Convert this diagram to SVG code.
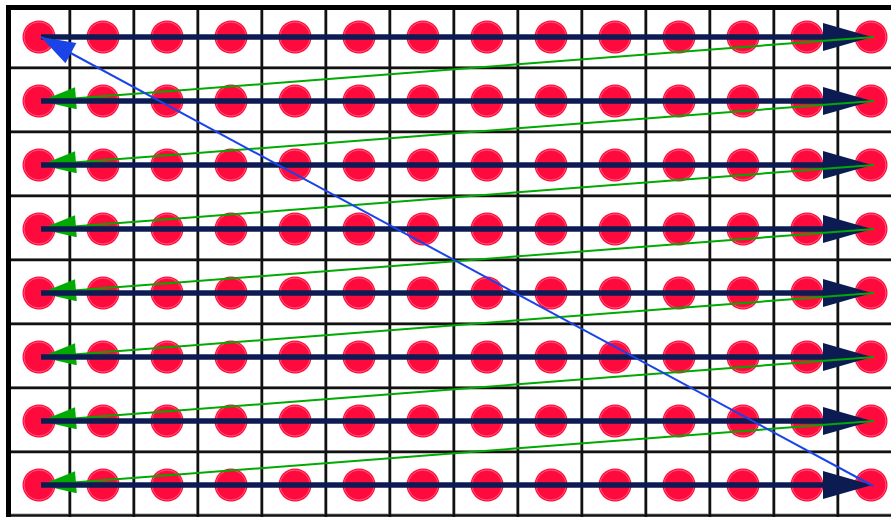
<svg xmlns="http://www.w3.org/2000/svg" xmlns:xlink="http://www.w3.org/1999/xlink" width="891" height="517" viewBox="0 0 891 517">
<style>
.grid{stroke:#111;stroke-width:2.5;fill:none}
.gridg{stroke:#999;stroke-width:1;fill:none}
.dot{fill:#ff0a3c}
.ring{fill:none;stroke:#ff6a88;stroke-width:0.8}
.navy{stroke:#0c1c52;stroke-width:5.5}
.navyh{fill:#0c1c52}
.green{stroke:#00aa00;stroke-width:2}
.blue{stroke:#1a44e8;stroke-width:2}
</style>
<defs>
<g id="dot"><circle class="dot" r="16.5"/><circle class="ring" r="15"/></g>
<polygon id="nh" class="navyh" points="-48,-14 1,0 -48,14"/>
<marker id="ga" markerUnits="userSpaceOnUse" orient="auto" overflow="visible" refX="0" refY="0">
<path d="M0,0 L-35,-11 L-35,11 z" fill="#00aa00"/>
</marker>
<marker id="ba" markerUnits="userSpaceOnUse" orient="auto" overflow="visible" refX="0" refY="0">
<path d="M0,0 L-34,-11.5 L-34,11.5 z" fill="#1a44e8"/>
</marker>
</defs>
<rect width="891" height="517" fill="#fff"/>
<g id="grid">
<path class="gridg" d="M68.5,10V517M132.5,10V517M196.5,10V517M260.5,10V517M324.5,10V517M388.5,10V517M452.5,10V517M516.5,10V517M580.5,10V517M644.5,10V517M708.5,10V517M772.5,10V517M836.5,10V517"/>
<path class="gridg" d="M11,66.5H891M11,130.5H891M11,194.5H891M11,258.5H891M11,322.5H891M11,386.5H891M11,450.5H891M11,514H891"/>
<path class="grid" d="M70,10V517M134,10V517M198,10V517M262,10V517M326,10V517M390,10V517M454,10V517M518,10V517M582,10V517M646,10V517M710,10V517M774,10V517M838,10V517"/>
<path class="grid" d="M11,68H891M11,132H891M11,196H891M11,260H891M11,324H891M11,388H891M11,452H891M11,515.5H891"/>
<path d="M8.5,517V7.5H891" fill="none" stroke="#000" stroke-width="5"/>
</g>
<g id="nodes">
<g id="row0"><use xlink:href="#dot" x="39" y="37"/><use xlink:href="#dot" x="103" y="37"/><use xlink:href="#dot" x="167" y="37"/><use xlink:href="#dot" x="231" y="37"/><use xlink:href="#dot" x="295" y="37"/><use xlink:href="#dot" x="359" y="37"/><use xlink:href="#dot" x="423" y="37"/><use xlink:href="#dot" x="487" y="37"/><use xlink:href="#dot" x="551" y="37"/><use xlink:href="#dot" x="615" y="37"/><use xlink:href="#dot" x="679" y="37"/><use xlink:href="#dot" x="743" y="37"/><use xlink:href="#dot" x="807" y="37"/><use xlink:href="#dot" x="871" y="37"/></g>
<g id="row1"><use xlink:href="#dot" x="39" y="101"/><use xlink:href="#dot" x="103" y="101"/><use xlink:href="#dot" x="167" y="101"/><use xlink:href="#dot" x="231" y="101"/><use xlink:href="#dot" x="295" y="101"/><use xlink:href="#dot" x="359" y="101"/><use xlink:href="#dot" x="423" y="101"/><use xlink:href="#dot" x="487" y="101"/><use xlink:href="#dot" x="551" y="101"/><use xlink:href="#dot" x="615" y="101"/><use xlink:href="#dot" x="679" y="101"/><use xlink:href="#dot" x="743" y="101"/><use xlink:href="#dot" x="807" y="101"/><use xlink:href="#dot" x="871" y="101"/></g>
<g id="row2"><use xlink:href="#dot" x="39" y="165"/><use xlink:href="#dot" x="103" y="165"/><use xlink:href="#dot" x="167" y="165"/><use xlink:href="#dot" x="231" y="165"/><use xlink:href="#dot" x="295" y="165"/><use xlink:href="#dot" x="359" y="165"/><use xlink:href="#dot" x="423" y="165"/><use xlink:href="#dot" x="487" y="165"/><use xlink:href="#dot" x="551" y="165"/><use xlink:href="#dot" x="615" y="165"/><use xlink:href="#dot" x="679" y="165"/><use xlink:href="#dot" x="743" y="165"/><use xlink:href="#dot" x="807" y="165"/><use xlink:href="#dot" x="871" y="165"/></g>
<g id="row3"><use xlink:href="#dot" x="39" y="229"/><use xlink:href="#dot" x="103" y="229"/><use xlink:href="#dot" x="167" y="229"/><use xlink:href="#dot" x="231" y="229"/><use xlink:href="#dot" x="295" y="229"/><use xlink:href="#dot" x="359" y="229"/><use xlink:href="#dot" x="423" y="229"/><use xlink:href="#dot" x="487" y="229"/><use xlink:href="#dot" x="551" y="229"/><use xlink:href="#dot" x="615" y="229"/><use xlink:href="#dot" x="679" y="229"/><use xlink:href="#dot" x="743" y="229"/><use xlink:href="#dot" x="807" y="229"/><use xlink:href="#dot" x="871" y="229"/></g>
<g id="row4"><use xlink:href="#dot" x="39" y="293"/><use xlink:href="#dot" x="103" y="293"/><use xlink:href="#dot" x="167" y="293"/><use xlink:href="#dot" x="231" y="293"/><use xlink:href="#dot" x="295" y="293"/><use xlink:href="#dot" x="359" y="293"/><use xlink:href="#dot" x="423" y="293"/><use xlink:href="#dot" x="487" y="293"/><use xlink:href="#dot" x="551" y="293"/><use xlink:href="#dot" x="615" y="293"/><use xlink:href="#dot" x="679" y="293"/><use xlink:href="#dot" x="743" y="293"/><use xlink:href="#dot" x="807" y="293"/><use xlink:href="#dot" x="871" y="293"/></g>
<g id="row5"><use xlink:href="#dot" x="39" y="357"/><use xlink:href="#dot" x="103" y="357"/><use xlink:href="#dot" x="167" y="357"/><use xlink:href="#dot" x="231" y="357"/><use xlink:href="#dot" x="295" y="357"/><use xlink:href="#dot" x="359" y="357"/><use xlink:href="#dot" x="423" y="357"/><use xlink:href="#dot" x="487" y="357"/><use xlink:href="#dot" x="551" y="357"/><use xlink:href="#dot" x="615" y="357"/><use xlink:href="#dot" x="679" y="357"/><use xlink:href="#dot" x="743" y="357"/><use xlink:href="#dot" x="807" y="357"/><use xlink:href="#dot" x="871" y="357"/></g>
<g id="row6"><use xlink:href="#dot" x="39" y="421"/><use xlink:href="#dot" x="103" y="421"/><use xlink:href="#dot" x="167" y="421"/><use xlink:href="#dot" x="231" y="421"/><use xlink:href="#dot" x="295" y="421"/><use xlink:href="#dot" x="359" y="421"/><use xlink:href="#dot" x="423" y="421"/><use xlink:href="#dot" x="487" y="421"/><use xlink:href="#dot" x="551" y="421"/><use xlink:href="#dot" x="615" y="421"/><use xlink:href="#dot" x="679" y="421"/><use xlink:href="#dot" x="743" y="421"/><use xlink:href="#dot" x="807" y="421"/><use xlink:href="#dot" x="871" y="421"/></g>
<g id="row7"><use xlink:href="#dot" x="39" y="485"/><use xlink:href="#dot" x="103" y="485"/><use xlink:href="#dot" x="167" y="485"/><use xlink:href="#dot" x="231" y="485"/><use xlink:href="#dot" x="295" y="485"/><use xlink:href="#dot" x="359" y="485"/><use xlink:href="#dot" x="423" y="485"/><use xlink:href="#dot" x="487" y="485"/><use xlink:href="#dot" x="551" y="485"/><use xlink:href="#dot" x="615" y="485"/><use xlink:href="#dot" x="679" y="485"/><use xlink:href="#dot" x="743" y="485"/><use xlink:href="#dot" x="807" y="485"/><use xlink:href="#dot" x="871" y="485"/></g>
</g>
<g id="connectors">
<line class="navy" x1="41" y1="37" x2="830" y2="37"/><use xlink:href="#nh" x="871" y="37"/>
<line class="green" x1="874" y1="37" x2="41" y2="101" marker-end="url(#ga)"/>
<line class="navy" x1="41" y1="101" x2="830" y2="101"/><use xlink:href="#nh" x="871" y="101"/>
<line class="green" x1="874" y1="101" x2="41" y2="165" marker-end="url(#ga)"/>
<line class="navy" x1="41" y1="165" x2="830" y2="165"/><use xlink:href="#nh" x="871" y="165"/>
<line class="green" x1="874" y1="165" x2="41" y2="229" marker-end="url(#ga)"/>
<line class="navy" x1="41" y1="229" x2="830" y2="229"/><use xlink:href="#nh" x="871" y="229"/>
<line class="green" x1="874" y1="229" x2="41" y2="293" marker-end="url(#ga)"/>
<line class="navy" x1="41" y1="293" x2="830" y2="293"/><use xlink:href="#nh" x="871" y="293"/>
<line class="green" x1="874" y1="293" x2="41" y2="357" marker-end="url(#ga)"/>
<line class="navy" x1="41" y1="357" x2="830" y2="357"/><use xlink:href="#nh" x="871" y="357"/>
<line class="green" x1="874" y1="357" x2="41" y2="421" marker-end="url(#ga)"/>
<line class="navy" x1="41" y1="421" x2="830" y2="421"/><use xlink:href="#nh" x="871" y="421"/>
<line class="green" x1="874" y1="421" x2="41" y2="485" marker-end="url(#ga)"/>
<line class="navy" x1="41" y1="485" x2="830" y2="485"/><use xlink:href="#nh" x="871" y="485"/>
<line class="blue" x1="873" y1="486" x2="41" y2="37" marker-end="url(#ba)"/>
</g>
</svg>
